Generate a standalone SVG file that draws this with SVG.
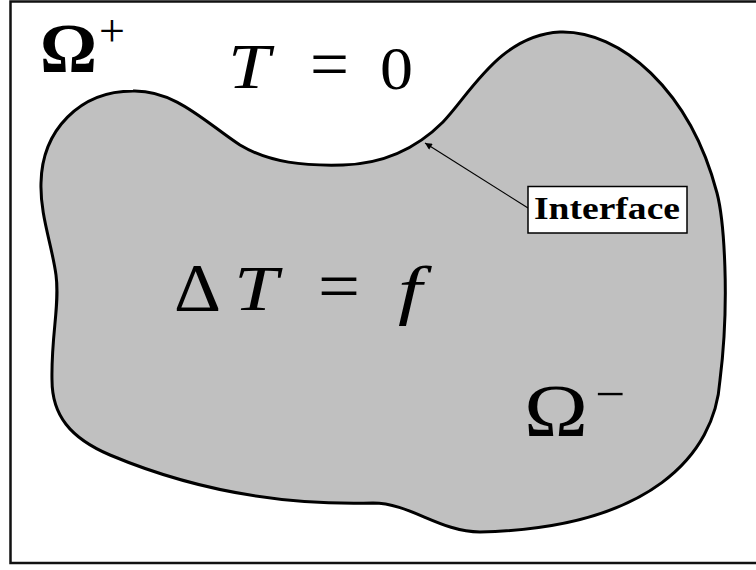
<svg xmlns="http://www.w3.org/2000/svg" width="756" height="570" viewBox="0 0 756 570">
<style>
text{font-family:"Liberation Serif","DejaVu Serif",serif;fill:#000}
.it{font-style:italic}
.lbl{font-weight:bold;font-size:32px}
</style>
<defs>
<marker id="ah" viewBox="0 0 10 10" refX="10" refY="5" markerWidth="9" markerHeight="7" markerUnits="userSpaceOnUse" orient="auto">
<path d="M0,0 L10,5 L0,10 Z" fill="#000"/>
</marker>
</defs>
<rect x="0" y="0" width="756" height="570" fill="#fff"/>
<rect id="frame" x="10.5" y="1.5" width="770" height="561.5" fill="none" stroke="#111" stroke-width="2.5"/>
<g id="domain">
<path d="M133,91 C175,90 205,122 240,145 C270,163 305,166 343,165 C380,164 415,150 443,122 C470,94 500,35 560,32 C620,30 690,90 717,193 C724,220 730,300 720,380 C715,455 650,528 480,532 C440,532 410,503 373,503 C300,505 210,497 110,455 C70,438 52,415 52,380 C51,335 60,305 56,275 C52,245 40,215 41,183 C42,130 80,91 133,91 Z" fill="#c0c0c0" stroke="#000" stroke-width="3"/>
</g>
<g id="omega-plus">
<text x="40" y="72" font-size="70" font-weight="bold" textLength="57" lengthAdjust="spacingAndGlyphs">Ω</text>
<text x="99" y="46" font-size="46">+</text>
</g>
<g id="bc">
<text class="it" x="228" y="88" font-size="64" textLength="42" lengthAdjust="spacingAndGlyphs">T</text>
<text x="310" y="88" font-size="70" textLength="39" lengthAdjust="spacingAndGlyphs">=</text>
<text x="380" y="89" font-size="62" textLength="33" lengthAdjust="spacingAndGlyphs">0</text>
</g>
<g id="eq">
<text x="174" y="310" font-size="68" textLength="47" lengthAdjust="spacingAndGlyphs">Δ</text>
<text class="it" x="234" y="310" font-size="64" textLength="44" lengthAdjust="spacingAndGlyphs">T</text>
<text x="318" y="310" font-size="70" textLength="42" lengthAdjust="spacingAndGlyphs">=</text>
<text class="it" x="398" y="312" font-size="66" textLength="24" lengthAdjust="spacingAndGlyphs">f</text>
</g>
<g id="omega-minus">
<text x="524" y="436" font-size="74" textLength="64" lengthAdjust="spacingAndGlyphs">Ω</text>
<text x="595" y="410" font-size="48" textLength="30" lengthAdjust="spacingAndGlyphs">−</text>
</g>
<g id="connectors">
<line x1="528" y1="208" x2="425" y2="143" stroke="#000" stroke-width="1.2" marker-end="url(#ah)"/>
</g>
<g id="interface">
<rect x="528" y="186.5" width="159" height="46.5" fill="#fff" stroke="#000" stroke-width="1.5"/>
<text class="lbl" x="534" y="219" textLength="146" lengthAdjust="spacingAndGlyphs">Interface</text>
</g>
</svg>
